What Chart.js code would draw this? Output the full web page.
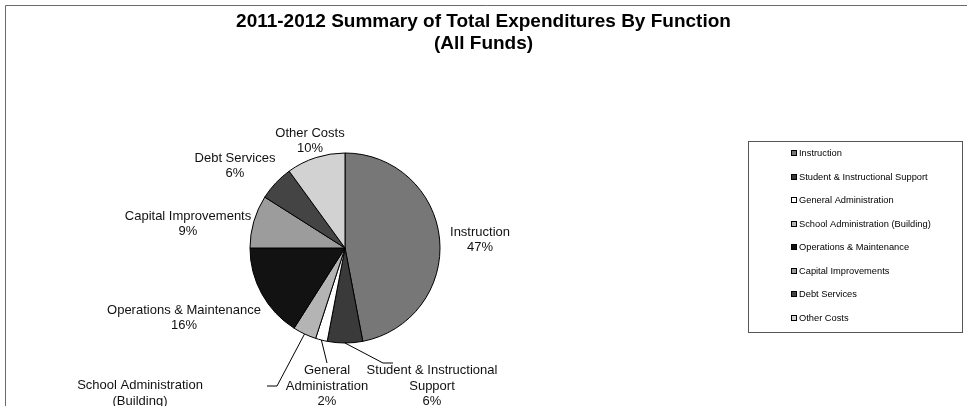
<!DOCTYPE html>
<html>
<head>
<meta charset="utf-8">
<title>Total Expenditures By Function</title>
<script src="https://cdn.jsdelivr.net/npm/chart.js@4.4.0/dist/chart.umd.min.js"></script>
<style>
  html, body { margin: 0; padding: 0; background: #fff; }
  canvas { display: block; }
</style>
</head>
<body>
<canvas id="expenditureChart" width="967" height="406"></canvas>
<script>
// Spending by function, percent of all funds
const categories = ["Instruction", "Student & Instructional Support", "General Administration",
  "School Administration (Building)", "Operations & Maintenance", "Capital Improvements",
  "Debt Services", "Other Costs"];
const percentages = [47, 6, 2, 4, 16, 9, 6, 10];

// how each category name wraps when written beside the pie
const pieLabelLines = [
  ["Instruction"],
  ["Student & Instructional", "Support"],
  ["General", "Administration"],
  ["School Administration", "(Building)"],
  ["Operations & Maintenance"],
  ["Capital Improvements"],
  ["Debt Services"],
  ["Other Costs"]
];
const titleLines = ["2011-2012 Summary of Total Expenditures By Function", "(All Funds)"];

// grey shades for the slices (printed in black and white)
const sliceColors = ["#777777", "#3a3a3a", "#ffffff", "#b4b4b4", "#121212", "#9c9c9c", "#444444", "#d2d2d2"];

const FONT = '"Liberation Sans", Arial, sans-serif';

// where each label block sits, measured from the pie centre
const labelOffsets = [[135, -8], [87, 138], [-18, 138], [-205, 153], [-161, 70], [-157, -24], [-110, -82], [-35, -107]];
// leader lines for the small slices at the bottom: elbow point and length of the flat tail
const leaders = {
  1: { elbow: [38, 115], tail: 10 },
  2: { elbow: [-18, 115], tail: 0 },
  3: { elbow: [-68, 138], tail: -10 }
};

const framePlugin = {
  id: 'frame',
  beforeDraw(chart) {
    const ctx = chart.ctx;
    ctx.save();
    ctx.fillStyle = '#fff';
    ctx.fillRect(0, 0, chart.width, chart.height);
    ctx.strokeStyle = '#6a6a6a';
    ctx.lineWidth = 1;
    ctx.beginPath();
    ctx.moveTo(5.5, chart.height);
    ctx.lineTo(5.5, 5.5);
    ctx.lineTo(chart.width, 5.5);
    ctx.stroke();
    ctx.restore();
  },
  afterDraw(chart) {
    const ctx = chart.ctx;
    ctx.save();
    ctx.fillStyle = '#000';
    ctx.font = 'bold 19px ' + FONT;
    ctx.textAlign = 'center';
    ctx.textBaseline = 'middle';
    titleLines.forEach((t, i) => ctx.fillText(t, chart.width / 2, 22 + i * 22));
    ctx.restore();
  }
};

const pieLabelPlugin = {
  id: 'pieLabels',
  afterDatasetsDraw(chart) {
    const ctx = chart.ctx;
    const arcs = chart.getDatasetMeta(0).data;
    ctx.save();
    ctx.font = '13px ' + FONT;
    ctx.fillStyle = '#111';
    ctx.textAlign = 'center';
    ctx.textBaseline = 'middle';
    arcs.forEach((arc, i) => {
      const cx = arc.x, cy = arc.y;
      const lines = pieLabelLines[i].concat([percentages[i] + '%']);
      const lh = 15.5;
      const bx = cx + labelOffsets[i][0];
      const by = cy + labelOffsets[i][1] - (lines.length - 1) * lh / 2;
      lines.forEach((t, k) => ctx.fillText(t, bx, by + k * lh));

      const ld = leaders[i];
      if (ld) {
        const mid = (arc.startAngle + arc.endAngle) / 2;
        const ex = cx + Math.cos(mid) * arc.outerRadius;
        const ey = cy + Math.sin(mid) * arc.outerRadius;
        const kx = cx + ld.elbow[0], ky = cy + ld.elbow[1];
        ctx.strokeStyle = '#000';
        ctx.lineWidth = 1;
        ctx.beginPath();
        ctx.moveTo(ex, ey);
        ctx.lineTo(kx, ky);
        if (ld.tail) ctx.lineTo(kx + ld.tail, ky);
        ctx.stroke();
      }
    });
    ctx.restore();
  }
};

// legend in its own bordered box to the right of the pie
const boxedLegendPlugin = {
  id: 'boxedLegend',
  afterDraw(chart) {
    const ctx = chart.ctx;
    const box = { left: 748, top: 141, right: 962, bottom: 332 };
    const firstY = 153, step = 23.5, markX = 791;
    ctx.save();
    ctx.strokeStyle = '#555';
    ctx.lineWidth = 1;
    ctx.strokeRect(box.left + 0.5, box.top + 0.5, box.right - box.left, box.bottom - box.top);
    ctx.font = '9.3px ' + FONT;
    ctx.textBaseline = 'middle';
    ctx.textAlign = 'left';
    categories.forEach((name, i) => {
      const y = Math.round(firstY + i * step);
      ctx.fillStyle = sliceColors[i];
      ctx.fillRect(markX, y - 3, 6, 6);
      ctx.strokeStyle = '#000';
      ctx.strokeRect(markX + 0.5, y - 2.5, 5, 5);
      ctx.fillStyle = '#000';
      ctx.fillText(name, markX + 8, y);
    });
    ctx.restore();
  }
};

const ctx = document.getElementById('expenditureChart').getContext('2d');
const chart = new Chart(ctx, {
  type: 'pie',
  data: {
    labels: categories,
    datasets: [{
      data: percentages,
      backgroundColor: sliceColors,
      borderColor: '#000',
      borderWidth: 1,
      radius: 95
    }]
  },
  options: {
    responsive: false,
    animation: false,
    devicePixelRatio: 1,
    layout: { padding: { top: 100, bottom: 10, left: 0, right: 277 } },
    plugins: {
      legend: { display: false },
      title: { display: false },
      tooltip: { enabled: false }
    }
  },
  plugins: [framePlugin, pieLabelPlugin, boxedLegendPlugin]
});
</script>
</body>
</html>
